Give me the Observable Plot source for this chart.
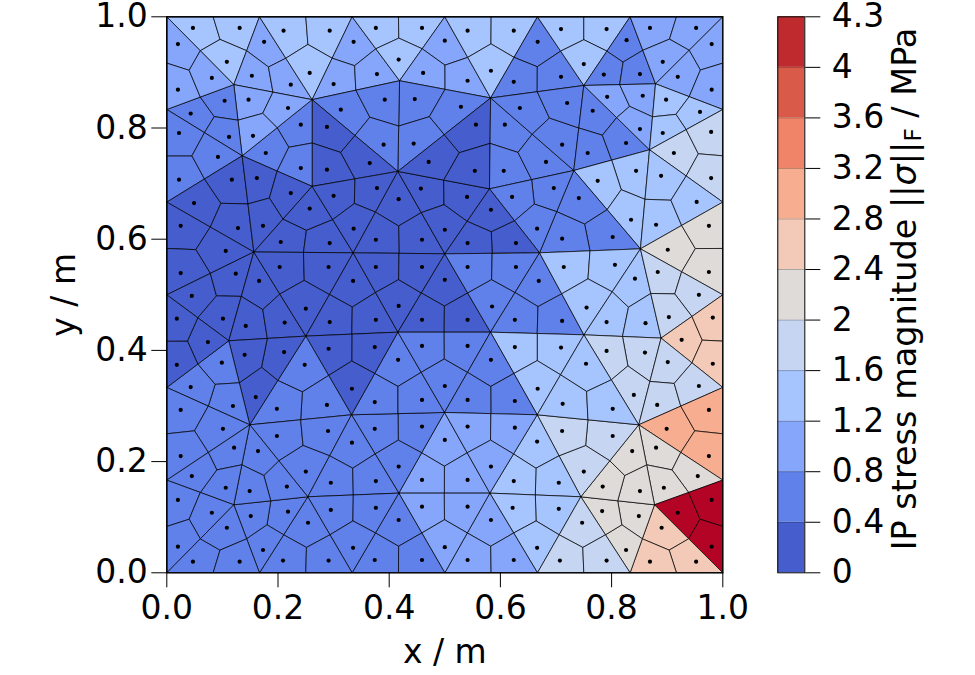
<!DOCTYPE html>
<html><head><meta charset="utf-8">
<script src="https://cdn.jsdelivr.net/npm/d3@7"></script>
<script src="https://cdn.jsdelivr.net/npm/@observablehq/plot@0.6"></script>
<style>
html,body{margin:0;padding:0;background:#fff}
#wrap{position:relative;width:975px;height:675px;overflow:hidden;font-family:"DejaVu Sans"}
#wrap svg{position:absolute;left:0;top:0;background:transparent}
#cbl{position:absolute;left:905px;top:289px;transform:translate(-50%,-50%) rotate(-90deg);white-space:nowrap;font-size:33.5px;color:#000;line-height:1}
#cbl sub{font-size:23px;vertical-align:baseline;position:relative;top:5px}
</style></head><body><div id="wrap"></div>
<script>
const bandEdges=[0,0.4,0.8,1.2,1.6,2,2.4,2.8,3.2,3.6,4,4.3];
const bandColors=["#465dcd","#6181ea","#85a6fb","#a6c4fe","#c6d6f2","#dfdbd9","#f3cab7","#f7ad90","#ef8469","#da5a49","#bf2a2f"];
const overColor="#b40426";
// integration points, grouped by the stress band they fall in
const s0=[[.288,.802],[.288,.725],[.117,.707],[.162,.710],[.223,.683],[.300,.678],[.049,.665],[.257,.655],[.556,.806],[.471,.739],[.365,.737],[.554,.723],[.378,.692],[.457,.691],[.540,.676],[.417,.672],[.583,.653],[.025,.624],[.128,.620],[.173,.624],[.336,.619],[.205,.595],[.293,.593],[.106,.579],[.203,.550],[.291,.550],[.025,.539],[.124,.538],[.166,.525],[.335,.525],[.045,.498],[.250,.475],[.018,.457],[.101,.457],[.142,.444],[.212,.450],[.293,.451],[.074,.415],[.291,.403],[.211,.397],[.140,.392],[.018,.374],[.333,.331],[.500,.617],[.376,.599],[.459,.599],[.541,.593],[.628,.593],[.376,.550],[.459,.550],[.500,.527],[.417,.480],[.376,.455],[.459,.455],[.541,.455],[.374,.406],[.160,.316]];
const s1=[[.043,.826],[.022,.791],[.241,.806],[.112,.784],[.178,.755],[.092,.748],[.241,.728],[.022,.707],[.104,.849],[.313,.833],[.667,.955],[.624,.883],[.392,.851],[.446,.852],[.529,.838],[.635,.836],[.608,.806],[.390,.770],[.444,.772],[.682,.739],[.606,.723],[.621,.676],[.827,.958],[.786,.896],[.851,.897],[.709,.892],[.720,.845],[.766,.831],[.826,.773],[.711,.770],[.757,.755],[.696,.692],[.741,.674],[.248,.374],[.099,.378],[.043,.334],[.666,.619],[.541,.550],[.628,.550],[.669,.525],[.585,.479],[.626,.455],[.459,.408],[.541,.408],[.416,.383],[.583,.383],[.500,.336],[.711,.601],[.802,.604],[.711,.453],[.119,.300],[.025,.293],[.198,.295],[.288,.302],[.101,.259],[.290,.255],[.198,.246],[.333,.234],[.025,.210],[.121,.225],[.164,.219],[.250,.182],[.045,.174],[.295,.162],[.106,.153],[.149,.147],[.216,.155],[.020,.131],[.218,.110],[.295,.113],[.081,.108],[.151,.102],[.254,.090],[.108,.081],[.020,.047],[.173,.041],[.335,.045],[.047,.020],[.131,.020],[.209,.022],[.291,.022],[.374,.307],[.459,.311],[.541,.311],[.626,.309],[.374,.259],[.459,.263],[.417,.191],[.376,.165],[.376,.117],[.417,.095],[.374,.023],[.459,.023]];
const s2=[[.020,.951],[.175,.955],[.336,.955],[.081,.890],[.153,.894],[.223,.878],[.300,.879],[.020,.869],[.147,.851],[.218,.836],[.155,.786],[.500,.957],[.378,.897],[.461,.899],[.541,.885],[.869,.980],[.952,.980],[.980,.951],[.892,.919],[.919,.892],[.980,.869],[.792,.856],[.856,.858],[.851,.798],[.541,.263],[.626,.261],[.500,.239],[.583,.191],[.459,.167],[.541,.167],[.459,.119],[.541,.119],[.583,.095],[.500,.046],[.541,.023],[.624,.023]];
const s3=[[.047,.980],[.131,.980],[.210,.975],[.293,.975],[.108,.919],[.257,.899],[.376,.980],[.459,.980],[.541,.975],[.624,.975],[.417,.923],[.583,.903],[.709,.978],[.791,.978],[.750,.915],[.898,.851],[.959,.829],[.892,.791],[.889,.714],[.844,.723],[.775,.705],[.953,.667],[.835,.635],[.880,.626],[.714,.550],[.806,.554],[.842,.529],[.755,.477],[.791,.451],[.861,.449],[.709,.405],[.754,.376],[.626,.406],[.667,.331],[.666,.236],[.624,.165],[.622,.117],[.666,.045],[.712,.304],[.802,.295],[.705,.162],[.705,.115]];
const s4=[[.979,.793],[.912,.755],[.979,.710],[.883,.541],[.957,.500],[.903,.460],[.791,.399],[.860,.396],[.901,.379],[.957,.336],[.840,.320],[.882,.302],[.711,.255],[.802,.246],[.750,.182],[.747,.090],[.707,.022],[.791,.022]];
const s5=[[.975,.624],[.901,.581],[.975,.541],[.837,.219],[.880,.225],[.955,.174],[.784,.155],[.851,.147],[.894,.153],[.783,.111],[.849,.102],[.826,.041]];
const s6=[[.982,.459],[.926,.419],[.982,.376],[.890,.081],[.869,.020],[.952,.020]];
const s7=[[.975,.293],[.899,.259],[.975,.210]];
const sTop=[[.980,.131],[.919,.108],[.980,.047]];
const siteGroups=[[s0,.2],[s1,.6],[s2,1],[s3,1.4],[s4,1.8],[s5,2.2],[s6,2.6],[s7,3],[sTop,4.5]];
const sites=siteGroups.flatMap(([g,v])=>g.map(([x,y])=>({x,y,v})));
// mesh nodes (m) and the triangular elements that join them
const meshNodes=[[0,1],[.1667,1],[.3333,1],[.5,1],[.6667,1],[.8333,1],[1,1],[1,.8333],[1,.6667],[1,.5],[1,.3333],[1,.1667],[1,0],[.8333,0],[.6667,0],[.5,0],[.3333,0],[.1667,0],[0,0],[0,.1667],[0,.3333],[0,.5],[0,.6667],[0,.8333],
[.1205,.878],[.2614,.851],[.1355,.750],[.2614,.695],[.1565,.577],[.4155,.722],[.4186,.885],[.5824,.854],[.5804,.6906],[.732,.7236],[.750,.8765],[.8682,.7608],[.879,.8795],[.8519,.5827],[.6704,.5755],[.500,.5737],[.3352,.5755],[.1115,.4173],[.25,.4257],[.4156,.4328],[.5822,.4328],[.7502,.428],[.889,.4221],[.8488,.2662],[.8772,.1223],[.7447,.1367],[.6662,.2842],[.581,.1433],[.4995,.2884],[.4173,.1433],[.3322,.2842],[.1493,.2662],[.2536,.1367],[.1205,.1223]];
const elements=[[0,1,24],[1,24,25],[1,2,25],[2,25,30],[2,3,30],[3,30,31],[3,4,31],[30,31,29],[25,30,29],[25,27,29],[25,26,27],[24,25,26],[23,24,26],[0,23,24],[22,23,26],[22,26,28],[26,27,28],[27,28,40],[27,29,40],[29,39,40],[29,32,39],[29,31,32],[31,32,33],[4,31,34],[31,33,34],[4,5,34],[34,33,35],[34,5,36],[34,36,35],[5,6,36],[6,36,7],[36,7,35],[35,7,8],[35,33,37],[35,37,8],[33,37,38],[33,32,38],[32,38,39],[22,28,21],[21,28,41],[28,41,42],[28,42,40],[40,42,43],[40,43,39],[39,43,44],[39,44,38],[38,44,45],[38,37,45],[37,45,46],[37,8,9],[37,9,46],[46,9,10],[46,45,47],[46,47,10],[47,10,11],[47,11,48],[48,11,12],[48,12,13],[48,13,49],[48,49,47],[47,49,50],[45,44,50],[45,50,47],[50,49,51],[49,51,14],[49,14,13],[51,15,14],[52,51,53],[53,51,15],[53,15,16],[52,54,53],[43,54,52],[43,52,44],[44,50,52],[52,50,51],[43,42,54],[42,54,55],[42,55,41],[41,55,20],[41,20,21],[20,55,19],[55,54,56],[54,56,53],[56,53,16],[56,17,16],[56,57,17],[56,55,57],[55,57,19],[19,57,18],[18,57,17]];
const axisTicks=[0,.2,.4,.6,.8,1];

// split each element into three quads: corner, two edge midpoints, centroid
const mid=(a,b)=>[(a[0]+b[0])/2,(a[1]+b[1])/2];
const cellPts=[];
elements.forEach((el,e)=>{
  const [a,b,c]=el.map(i=>meshNodes[i]);
  const g=[(a[0]+b[0]+c[0])/3,(a[1]+b[1]+c[1])/3];
  [[a,b,c],[b,c,a],[c,a,b]].forEach(([p,q,r],k)=>{
    const d=[(2*p[0]+q[0]+r[0])/4*0+ (4*p[0]+q[0]+r[0])/6,(4*p[1]+q[1]+r[1])/6];
    const site=d3.least(sites,s=>Math.hypot(s.x-d[0],s.y-d[1]));
    const v=site.v;
    const ring=[p,mid(p,q),g,mid(p,r),p];
    ring.forEach(pt=>cellPts.push({id:e*3+k,x:pt[0],y:pt[1],v}));
  });
});

const font="DejaVu Sans";
const fs=33;
const main=Plot.plot({
  width:975,height:675,marginLeft:166.3,marginRight:252.7,marginTop:16.3,marginBottom:102.7,
  style:{fontFamily:font,background:"transparent",color:"#000"},
  x:{domain:[0,1]},y:{domain:[0,1]},
  color:{type:"threshold",domain:bandEdges.slice(1),range:[...bandColors,overColor]},
  marks:[
    Plot.line(cellPts,{x:"x",y:"y",z:"id",fill:"v",stroke:"#000",strokeWidth:.8,strokeOpacity:.9,clip:true}),
    Plot.dot(sites,{x:"x",y:"y",r:2.1,fill:"#000"}),
    Plot.frame({stroke:"#000",strokeWidth:1.5}),
    Plot.axisX({ticks:axisTicks,tickFormat:".1f",tickSize:15,tickPadding:8,fontSize:fs,strokeWidth:1,label:"x / m",labelAnchor:"center",labelArrow:"none",labelOffset:90}),
    Plot.axisY({ticks:axisTicks,tickFormat:".1f",tickSize:15,tickPadding:4,fontSize:fs,strokeWidth:1,label:"y / m",labelAnchor:"center",labelArrow:"none",labelOffset:115})
  ]
});
const idx=bandEdges.map((_,i)=>i);
const bands=bandColors.map((c,i)=>({lo:i,hi:i+1,c}));
const cbar=Plot.plot({
  width:975,height:675,marginLeft:777.3,marginRight:170.7,marginTop:16.3,marginBottom:102.7,
  style:{fontFamily:font,background:"transparent",color:"#000"},
  x:{domain:[0,1],axis:null},y:{domain:[0,11]},
  marks:[
    Plot.rect(bands,{x1:0,x2:1,y1:"lo",y2:"hi",fill:"c"}),
    Plot.ruleY(idx.slice(1,-1),{stroke:"#000",strokeOpacity:.25,strokeWidth:1}),
    Plot.frame({stroke:"#000",strokeWidth:1}),
    Plot.axisY({anchor:"right",ticks:idx,tickFormat:i=>String(bandEdges[i]),tickSize:15,tickPadding:12,fontSize:fs,strokeWidth:1,label:null})
  ]
});
const w=document.getElementById("wrap");
w.append(main,cbar);
const l=document.createElement("div");l.id="cbl";
l.innerHTML="IP stress magnitude ||<i>σ</i>||<sub>F</sub> / MPa";
w.append(l);
</script></body></html>
